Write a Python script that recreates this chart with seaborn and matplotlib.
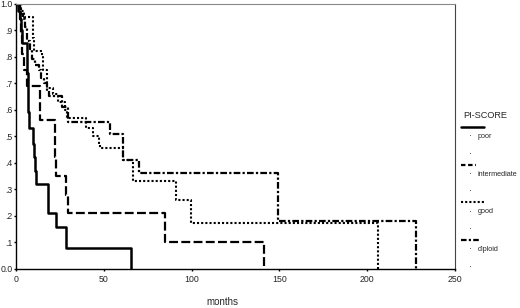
import matplotlib
matplotlib.use("Agg")
import matplotlib.pyplot as plt
from matplotlib.lines import Line2D
import seaborn as sns
import pandas as pd

# ---- data ----
groups = ["poor", "intermediate", "good", "diploid"]

poor_t = [0, 1, 2, 3, 3.5, 6.2, 6.4, 6.6, 6.8, 7.0, 7.4, 9.7, 10.3, 10.8, 11.4, 18, 22.7, 28.5, 65.7]
poor_s = [1.0, .97, .94, .90, .85, .80, .74, .69, .64, .59, .53, .47, .42, .37, .32, .21, .16, .08, 0.0]

inter_t = [0, 2, 3, 3.5, 4.5, 6, 13.6, 22, 22.3, 22.6, 28.5, 29.5, 85, 141]
inter_s = [1.0, .94, .88, .81, .75, .69, .56, .49, .42, .35, .28, .21, .10, 0.0]

good_t = [0, 3, 4.5, 9.5, 9.8, 10.2, 14.6, 15.4, 17.4, 21, 24, 28, 29, 40, 44, 47, 48, 61, 66.7, 91, 99.8, 206]
good_s = [1.0, .97, .95, .92, .87, .82, .80, .75, .68, .66, .63, .60, .57, .53, .50, .47, .455, .41, .33, .26, .175, 0.0]

dip_t = [0, 2, 3, 4, 5, 6, 6.5, 8, 9.3, 11, 13, 14.5, 16, 17.5, 18.8, 26, 29.7, 53.4, 61, 70, 149, 227.6]
dip_s = [1.0, .98, .96, .94, .91, .88, .86, .83, .79, .77, .75, .72, .70, .67, .65, .61, .555, .51, .41, .36, .18, 0.0]

x_ticks = [0, 50, 100, 150, 200, 250]
y_ticks = [0.0, .1, .2, .3, .4, .5, .6, .7, .8, .9, 1.0]
y_tick_labels = ["0.0", ".1", ".2", ".3", ".4", ".5", ".6", ".7", ".8", ".9", "1.0"]
legend_title = "PI-SCORE"
x_label = "months"

# ---- build long table ----
frames = []
for g, t, s in zip(groups, [poor_t, inter_t, good_t, dip_t], [poor_s, inter_s, good_s, dip_s]):
    frames.append(pd.DataFrame({"months": t, "surv": s, "group": g}))
df = pd.concat(frames, ignore_index=True)

sns.set_theme(style="white")
plt.rcParams["font.family"] = ["Liberation Sans", "DejaVu Sans"]

W, H = 520, 308
fig = plt.figure(figsize=(W / 100, H / 100), dpi=100)
ax = fig.add_axes([16 / W, 1 - 269 / H, 439 / W, 265.5 / H])

dash_map = {
    "poor": "",
    "intermediate": (4, 1.5),
    "good": (1, 1),
    "diploid": (3, 1, 1, 1),
}
legend_dash = {
    "poor": "",
    "intermediate": (2.0, 1.2),
    "good": (1, 1),
    "diploid": (2.5, 1, 1, 1),
}
lw_map = {"poor": 1.8, "intermediate": 1.6, "good": 1.5, "diploid": 1.6}
palette = {g: "black" for g in groups}

sns.lineplot(data=df, x="months", y="surv", hue="group", style="group",
             hue_order=groups, style_order=groups, palette=palette,
             dashes=dash_map, drawstyle="steps-post", estimator=None,
             sort=False, linewidth=1.6, legend=False, ax=ax)
for line, g in zip(ax.get_lines(), groups):
    line.set_linewidth(lw_map[g])

ax.set_xlim(0, 250)
ax.set_ylim(0, 1.0)
ax.set_xticks(x_ticks)
ax.set_xticklabels([str(v) for v in x_ticks])
ax.set_yticks(y_ticks)
ax.set_yticklabels(y_tick_labels)
ax.tick_params(axis="both", which="both", length=1.5, width=1, color="black",
               labelsize=6.3, pad=1, direction="out", bottom=True, left=True)
ax.tick_params(axis="x", pad=3)
ax.set_ylabel("")
ax.set_xlabel(x_label, fontsize=7)
ax.xaxis.set_label_coords(0.47, -0.105)

for side in ["left", "bottom"]:
    ax.spines[side].set_color("black")
    ax.spines[side].set_linewidth(1.0)
ax.spines["top"].set_color("#888888")
ax.spines["top"].set_linewidth(0.8)
ax.spines["right"].set_color("#444444")
ax.spines["right"].set_linewidth(0.8)

# ---- manual SPSS-style legend at right ----
def fx(x):
    return x / W

def fy(y):
    return 1 - y / H

fig.text(fx(463), fy(115), legend_title, fontsize=6.6, va="center", ha="left")
sample_ends = {"poor": 484, "intermediate": 476, "good": 485, "diploid": 480}
for i, g in enumerate(groups):
    y0 = 127 + i * 37.6
    ls = "-" if legend_dash[g] == "" else (0, legend_dash[g])
    fig.add_artist(Line2D([fx(461), fx(sample_ends[g])], [fy(y0), fy(y0)],
                          transform=fig.transFigure, color="black",
                          linewidth=lw_map[g], linestyle=ls))
    fig.text(fx(470), fy(y0 + 9.5), "·", fontsize=7, va="center", ha="center")
    fig.text(fx(477.5), fy(y0 + 9.5), g, fontsize=5.2, va="center", ha="left")
    fig.text(fx(470), fy(y0 + 27), "·", fontsize=7, va="center", ha="center")

fig.savefig("out.png", dpi=100, facecolor="white")
